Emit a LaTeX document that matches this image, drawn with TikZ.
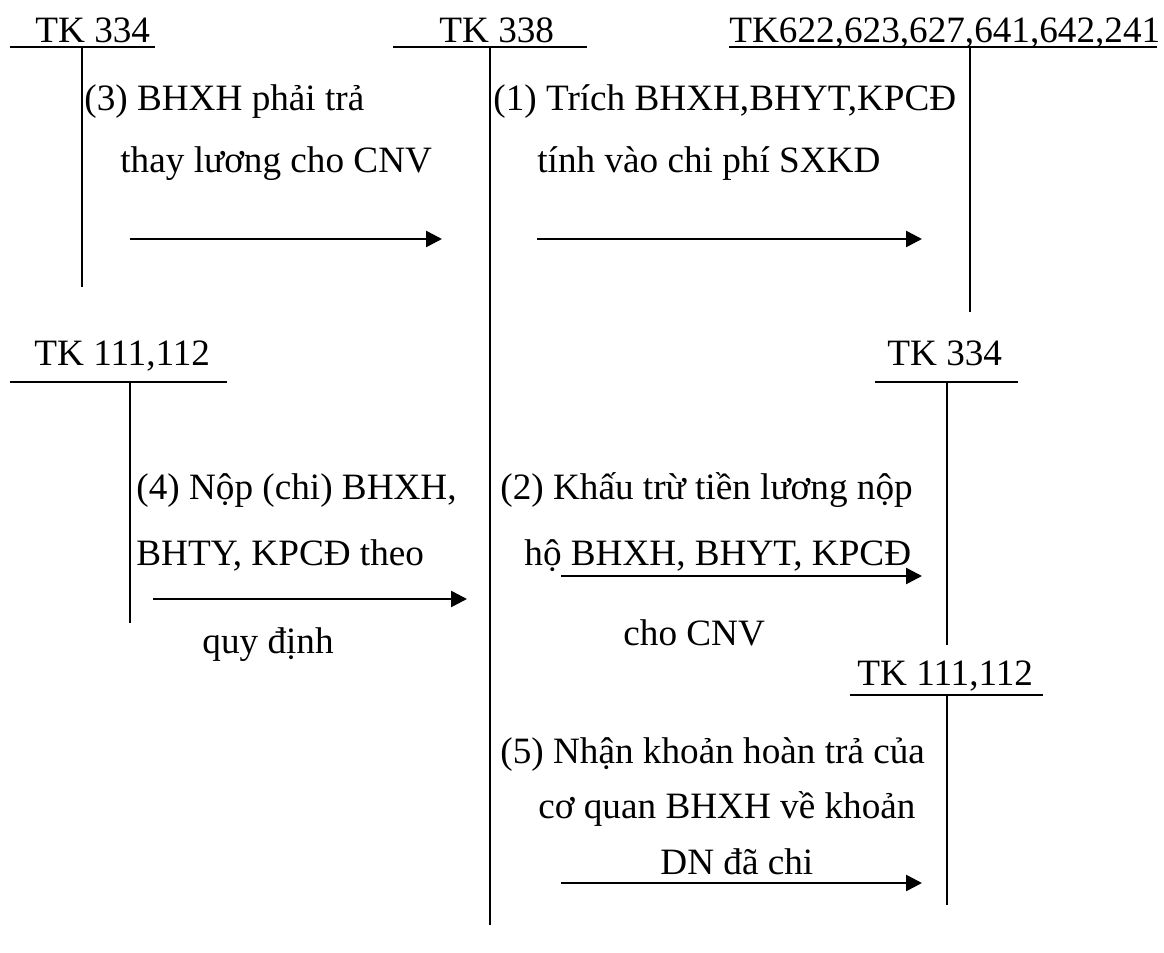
\documentclass[tikz,border=0pt]{standalone}
\usepackage{fontspec}
\setmainfont{Liberation Serif}
\usetikzlibrary{arrows.meta}
\tikzset{
  acct/.style={line width=0.95pt},
  flow/.style={line width=1.3pt,-{Triangle[length=8pt,width=8pt]}},
  lbl/.style={anchor=base west,inner sep=0pt,font=\fontsize{18.6}{22}\selectfont},
}
\begin{document}
\begin{tikzpicture}[x=0.5pt,y=-0.5pt]
\useasboundingbox (0,0) rectangle (1164,953);

% account headers
\node[lbl] (tkA) at (35,42) {TK 334};
\node[lbl] (tkB) at (439,42) {TK 338};
\node[lbl] (tkC) at (729,42) {TK622,623,627,641,642,241};
\node[lbl] (tkD) at (34,365) {TK 111,112};
\node[lbl] (tkE) at (887,365) {TK 334};
\node[lbl] (tkF) at (857,685) {TK 111,112};

% T lines
\draw[acct] (10,47) -- (155,47);
\draw[acct] (82,47) -- (82,287);
\draw[acct] (393,47) -- (587,47);
\draw[acct] (490,47) -- (490,925);
\draw[acct] (729,47) -- (1157,47);
\draw[acct] (970,47) -- (970,312);
\draw[acct] (10,382) -- (227,382);
\draw[acct] (130,382) -- (130,623);
\draw[acct] (875,382) -- (1018,382);
\draw[acct] (947,382) -- (947,645);
\draw[acct] (850,695) -- (1043,695);
\draw[acct] (947,695) -- (947,905);

% entries
\node[lbl] (e3a) at (84,110) {(3) BHXH phải trả};
\node[lbl] (e3b) at (120,172) {thay lương cho CNV};
\node[lbl] (e1a) at (493,110) {(1) Trích BHXH,BHYT,KPCĐ};
\node[lbl] (e1b) at (537,172) {tính vào chi phí SXKD};
\node[lbl] (e4a) at (136,499) {(4) Nộp (chi) BHXH,};
\node[lbl] (e4b) at (136,565) {BHTY, KPCĐ theo};
\node[lbl] (e4c) at (202,653) {quy định};
\node[lbl] (e2a) at (500,499) {(2) Khấu trừ tiền lương nộp};
\node[lbl] (e2b) at (524,565) {hộ BHXH, BHYT, KPCĐ};
\node[lbl] (e2c) at (623,645) {cho CNV};
\node[lbl] (e5a) at (500,763) {(5) Nhận khoản hoàn trả của};
\node[lbl] (e5b) at (538,818) {cơ quan BHXH về khoản};
\node[lbl] (e5c) at (660,874) {DN đã chi};

% arrows
\coordinate (s3) at (130,239); \coordinate (t3) at (442,239);
\coordinate (s1) at (537,239); \coordinate (t1) at (922,239);
\coordinate (s4) at (153,599); \coordinate (t4) at (467,599);
\coordinate (s2) at (561,576); \coordinate (t2) at (922,576);
\coordinate (s5) at (561,883); \coordinate (t5) at (922,883);
\draw[flow] (s3) -- (t3);
\draw[flow] (s1) -- (t1);
\draw[flow] (s4) -- (t4);
\draw[flow] (s2) -- (t2);
\draw[flow] (s5) -- (t5);
\end{tikzpicture}
\end{document}
